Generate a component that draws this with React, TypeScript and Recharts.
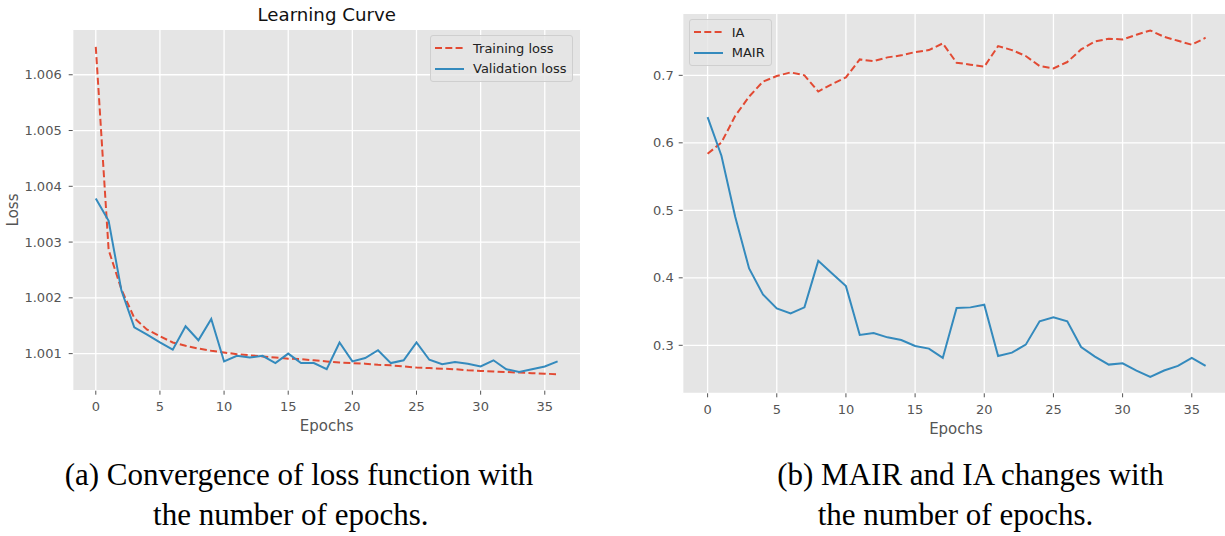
import { CartesianGrid, Legend, Line, LineChart, XAxis, YAxis } from "recharts";

const epochs = [0, 1, 2, 3, 4, 5, 6, 7, 8, 9, 10, 11, 12, 13, 14, 15, 16, 17, 18, 19, 20, 21, 22, 23, 24, 25, 26, 27, 28, 29, 30, 31, 32, 33, 34, 35, 36];
const trainingLoss = [1.0065, 1.00286, 1.00215, 1.00164, 1.00143, 1.00131, 1.0012, 1.00114, 1.00109, 1.00105, 1.00102, 1.00099, 1.00097, 1.00095, 1.00093, 1.00091, 1.0009, 1.00088, 1.00086, 1.00084, 1.00083, 1.00082, 1.0008, 1.00079, 1.00077, 1.00075, 1.00074, 1.00073, 1.00072, 1.0007, 1.00069, 1.00068, 1.00067, 1.00066, 1.00065, 1.00064, 1.00063];
const validationLoss = [1.00378, 1.00338, 1.00213, 1.00147, 1.00134, 1.0012, 1.00107, 1.00149, 1.00124, 1.00162, 1.00086, 1.00096, 1.00093, 1.00096, 1.00083, 1.001, 1.00083, 1.00083, 1.00072, 1.0012, 1.00086, 1.00092, 1.00106, 1.00083, 1.00088, 1.0012, 1.00089, 1.00081, 1.00085, 1.00082, 1.00077, 1.00088, 1.00072, 1.00067, 1.00072, 1.00077, 1.00086];
const iaValues = [0.5837, 0.6005, 0.64, 0.6685, 0.6906, 0.699, 0.7044, 0.7, 0.676, 0.687, 0.697, 0.7236, 0.721, 0.7266, 0.7296, 0.7345, 0.7374, 0.7473, 0.7187, 0.7158, 0.7128, 0.7433, 0.7374, 0.7286, 0.7138, 0.7103, 0.7197, 0.7384, 0.7502, 0.7542, 0.7532, 0.7601, 0.7665, 0.7571, 0.7512, 0.7453, 0.7557];
const mairValues = [0.638, 0.5808, 0.49, 0.4138, 0.3754, 0.3547, 0.3473, 0.3562, 0.4251, 0.4064, 0.3877, 0.3153, 0.3182, 0.3118, 0.3079, 0.299, 0.2951, 0.2813, 0.3552, 0.3562, 0.3601, 0.2842, 0.2892, 0.301, 0.3355, 0.3414, 0.3355, 0.2975, 0.2833, 0.2714, 0.2734, 0.2626, 0.2532, 0.2626, 0.2695, 0.2813, 0.2695];

const epochTicks = [0, 5, 10, 15, 20, 25, 30, 35];
const lossTicks = [1.001, 1.002, 1.003, 1.004, 1.005, 1.006];
const scoreTicks = [0.3, 0.4, 0.5, 0.6, 0.7];

const RED = "#E24A33";
const BLUE = "#348ABD";
const SANS = "'DejaVu Sans', sans-serif";
const SERIF = "'Liberation Serif', serif";

const lossRows = epochs.map((epoch, i) => ({ epoch, train: trainingLoss[i], val: validationLoss[i] }));
const scoreRows = epochs.map((epoch, i) => ({ epoch, ia: iaValues[i], mair: mairValues[i] }));

const tick = { fontSize: 13, fill: "#555555", fontFamily: SANS };

function LegendBox({ items }: { items: { label: string; color: string; dashed: boolean }[] }) {
  return (
    <div style={{ background: "rgba(229,229,229,0.8)", border: "1px solid #cfcfcf", borderRadius: 3, padding: "2px 6px 2px 4px", fontFamily: SANS, fontSize: 13, color: "#222" }}>
      {items.map((it) => (
        <div key={it.label} style={{ display: "flex", alignItems: "center", height: 20.5 }}>
          <svg width={29} height={6} style={{ marginRight: 9 }}>
            <line x1={0} y1={3} x2={29} y2={3} stroke={it.color} strokeWidth={2} strokeDasharray={it.dashed ? "7 3.3" : undefined} />
          </svg>
          <span>{it.label}</span>
        </div>
      ))}
    </div>
  );
}

const abs = (left: number, top: number, extra: React.CSSProperties = {}): React.CSSProperties => ({ position: "absolute", left, top, ...extra });

export default function App() {
  return (
    <div style={{ position: "relative", width: 1225, height: 536, overflow: "hidden", background: "#fff" }}>
      <style>{"body{margin:0}"}</style>

      {/* (a) loss curves */}
      <div style={abs(0, 0)}>
        <LineChart width={600} height={440} data={lossRows} margin={{ top: 29.3, right: 19.3, bottom: 19.3, left: 12.7 }}>
          <CartesianGrid fill="#E5E5E5" stroke="#ffffff" strokeWidth={1.3} />
          <XAxis dataKey="epoch" type="number" domain={[-1.8, 37.8]} ticks={epochTicks} allowDataOverflow axisLine={false} tickLine={{ stroke: "#555" }} tickSize={4} tickMargin={7} height={30} tick={tick} />
          <YAxis type="number" domain={[1.000335, 1.006815]} ticks={lossTicks} allowDataOverflow axisLine={false} tickLine={{ stroke: "#555" }} tickSize={4} tickMargin={7} width={60} tick={tick} tickFormatter={(v: number) => v.toFixed(3)} />
          <Line dataKey="train" type="linear" stroke={RED} strokeWidth={2} strokeDasharray="7 3.3" dot={false} isAnimationActive={false} />
          <Line dataKey="val" type="linear" stroke={BLUE} strokeWidth={2} dot={false} isAnimationActive={false} />
          <Legend layout="vertical" align="center" verticalAlign="middle" wrapperStyle={{ position: "absolute", left: 430, top: 35, width: "auto" }}
            content={() => <LegendBox items={[{ label: "Training loss", color: RED, dashed: true }, { label: "Validation loss", color: BLUE, dashed: false }]} />} />
        </LineChart>
      </div>
      <div style={abs(226.7, 4, { width: 200, textAlign: "center", fontFamily: SANS, fontSize: 18.2, color: "#111" })}>Learning Curve</div>
      <div style={abs(276.7, 417, { width: 100, textAlign: "center", fontFamily: SANS, fontSize: 15, color: "#555" })}>Epochs</div>
      <div style={abs(-37.3, 201, { width: 100, textAlign: "center", fontFamily: SANS, fontSize: 15, color: "#555", transform: "rotate(-90deg)" })}>Loss</div>

      {/* (b) MAIR and IA */}
      <div style={abs(620, 0)}>
        <LineChart width={640} height={440} data={scoreRows} margin={{ top: 13.3, right: 29.5, bottom: 16.7, left: 12.7 }}>
          <CartesianGrid fill="#E5E5E5" stroke="#ffffff" strokeWidth={1.3} />
          <XAxis dataKey="epoch" type="number" domain={[-1.8, 37.8]} ticks={epochTicks} allowDataOverflow axisLine={false} tickLine={{ stroke: "#555" }} tickSize={4} tickMargin={7} height={30} tick={tick} />
          <YAxis type="number" domain={[0.2289, 0.7919]} ticks={scoreTicks} allowDataOverflow axisLine={false} tickLine={{ stroke: "#555" }} tickSize={4} tickMargin={5} width={50} tick={tick} tickFormatter={(v: number) => v.toFixed(1)} />
          <Line dataKey="ia" type="linear" stroke={RED} strokeWidth={2} strokeDasharray="7 3.3" dot={false} isAnimationActive={false} />
          <Line dataKey="mair" type="linear" stroke={BLUE} strokeWidth={2} dot={false} isAnimationActive={false} />
          <Legend layout="vertical" align="center" verticalAlign="middle" wrapperStyle={{ position: "absolute", left: 68.7, top: 19, width: "auto" }}
            content={() => <LegendBox items={[{ label: "IA", color: RED, dashed: true }, { label: "MAIR", color: BLUE, dashed: false }]} />} />
        </LineChart>
      </div>
      <div style={abs(906, 420, { width: 100, textAlign: "center", fontFamily: SANS, fontSize: 15, color: "#555" })}>Epochs</div>

      {/* captions */}
      <div style={abs(49, 454.5, { width: 500, textAlign: "center", fontFamily: SERIF, fontSize: 31, lineHeight: "40px", whiteSpace: "nowrap" })}>(a) Convergence of loss function with</div>
      <div style={abs(40.8, 494.5, { width: 500, textAlign: "center", fontFamily: SERIF, fontSize: 31, lineHeight: "40px", whiteSpace: "nowrap" })}>the number of epochs.</div>
      <div style={abs(720.5, 454.5, { width: 500, textAlign: "center", fontFamily: SERIF, fontSize: 31, lineHeight: "40px", whiteSpace: "nowrap" })}>(b) MAIR and IA changes with</div>
      <div style={abs(705.5, 494.5, { width: 500, textAlign: "center", fontFamily: SERIF, fontSize: 31, lineHeight: "40px", whiteSpace: "nowrap" })}>the number of epochs.</div>
    </div>
  );
}
